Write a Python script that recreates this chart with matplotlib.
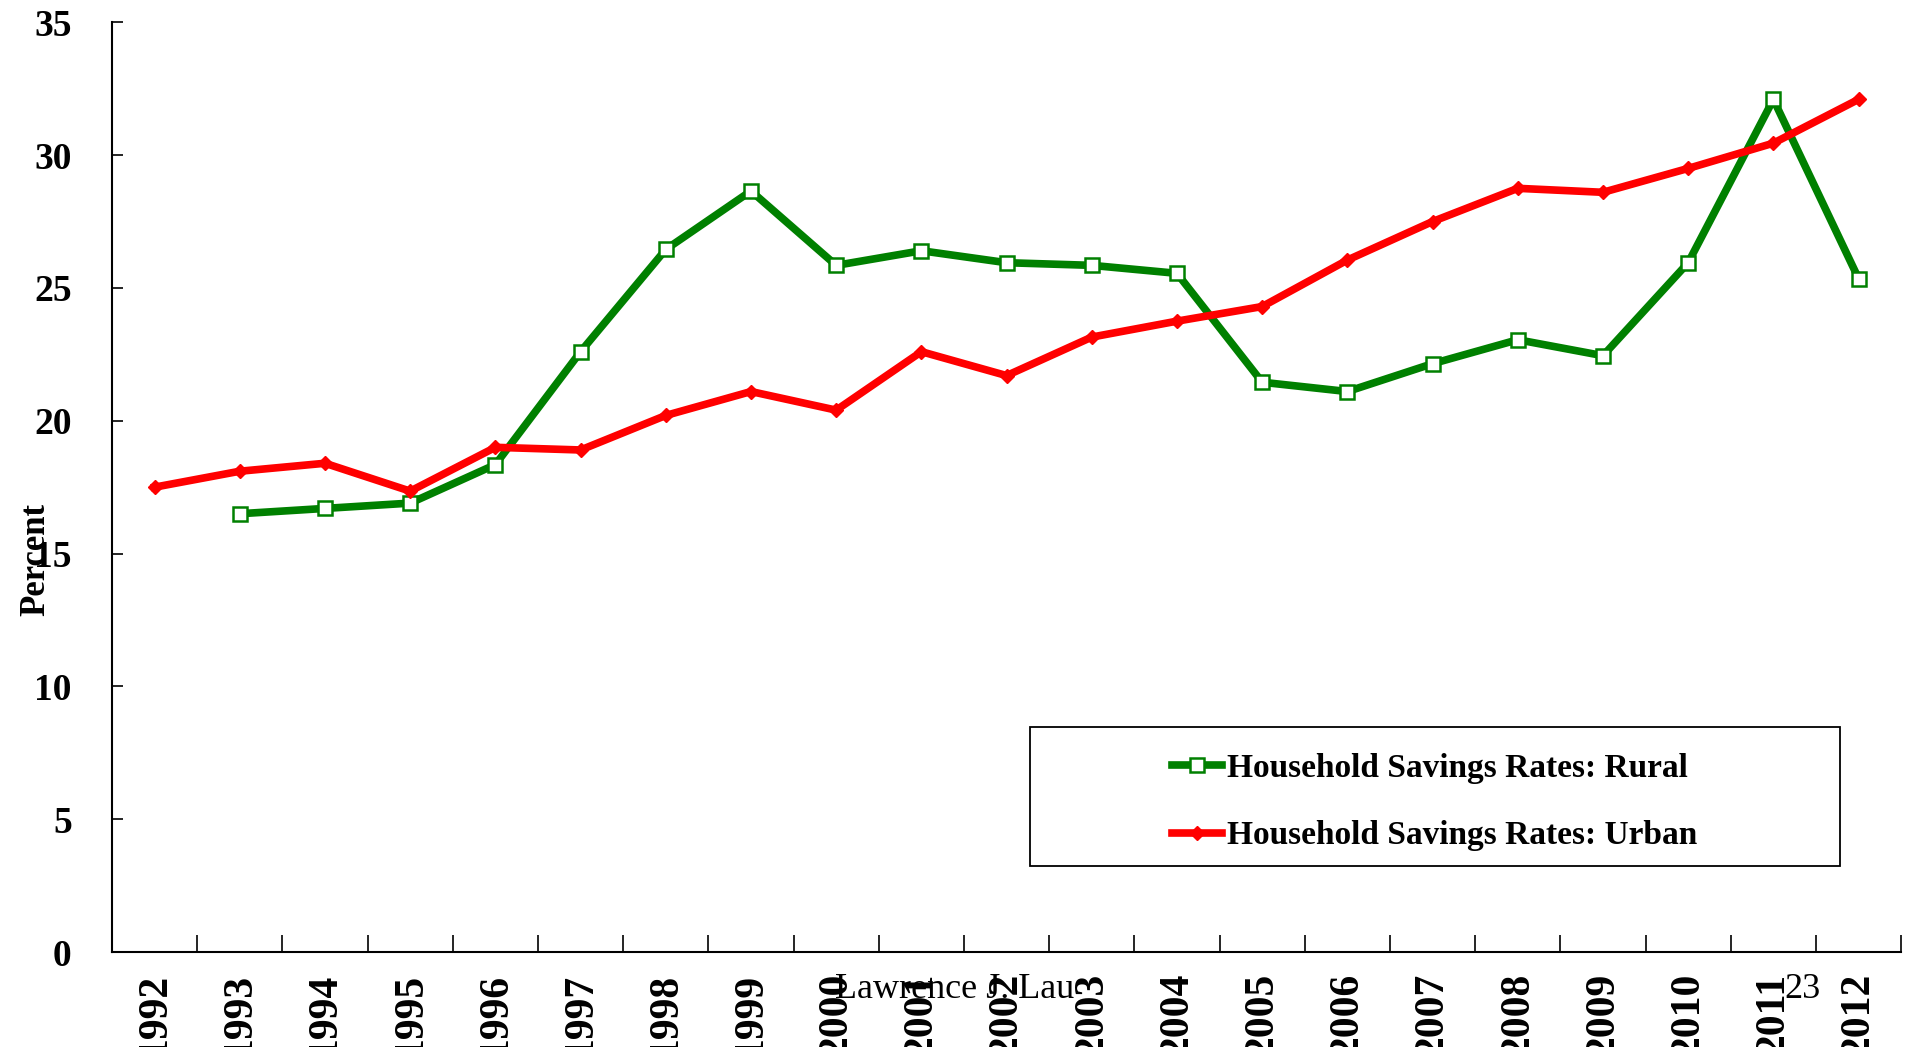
import numpy as np
import matplotlib
matplotlib.use("Agg")
import matplotlib.pyplot as plt
from matplotlib.ticker import FixedLocator
from matplotlib.patches import Rectangle

years = [str(y) for y in range(1992, 2013)]
rural = [np.nan, 16.5, 16.7, 16.9, 18.35, 22.6, 26.45, 28.65, 25.85, 26.4, 25.95,
         25.85, 25.55, 21.45, 21.1, 22.15, 23.05, 22.45, 25.95, 32.1, 25.35]
urban = [17.5, 18.1, 18.4, 17.35, 19.0, 18.9, 20.2, 21.1, 20.4, 22.6, 21.7,
         23.15, 23.75, 24.3, 26.05, 27.5, 28.75, 28.6, 29.5, 30.45, 32.1]
yticks = [0, 5, 10, 15, 20, 25, 30, 35]

serif = ["Liberation Serif", "DejaVu Serif"]
plt.rcParams["font.family"] = serif

fig = plt.figure(figsize=(19.05, 10.47), dpi=100)
ax = fig.add_axes([0.0588, 0.0907, 0.9392, 0.888])

x = np.arange(len(years))
ax.plot(x, rural, color="#008000", linewidth=5.5, marker="s", markersize=10,
        markerfacecolor="white", markeredgecolor="#008000", markeredgewidth=1.8,
        label="Household Savings Rates: Rural", zorder=3)
ax.plot(x, urban, color="#FF0000", linewidth=5.5, marker="D", markersize=7.5,
        markerfacecolor="#FF0000", markeredgecolor="#FF0000",
        label="Household Savings Rates: Urban", zorder=3)

ax.set_xlim(-0.5, len(years) - 0.5)
ax.set_ylim(0, 35)

ax.spines["top"].set_visible(False)
ax.spines["right"].set_visible(False)
ax.spines["left"].set_linewidth(1.5)
ax.spines["bottom"].set_linewidth(1.5)

ax.set_xticks(x)
ax.set_xticklabels(years, rotation=90, fontsize=30, fontweight="bold", va="top")
ax.tick_params(axis="x", which="major", length=0, pad=15)
ax.xaxis.set_minor_locator(FixedLocator(np.arange(-0.5, len(years), 1.0)))
ax.tick_params(axis="x", which="minor", direction="in", length=12, width=1.2)

ax.set_yticks(yticks)
ax.set_yticklabels([str(v) for v in yticks], fontsize=27, fontweight="bold")
ax.tick_params(axis="y", direction="in", length=8, width=1.2, pad=29)

fig.text(0.019, 1 - 559 / 1047, "Percent", rotation=90, ha="center", va="center",
         fontsize=25, fontweight="bold")

# legend box
fig.patches.append(Rectangle((1030 / 1905, 1 - 866 / 1047), 810 / 1905, 139 / 1047,
                             transform=fig.transFigure, fill=False,
                             edgecolor="black", linewidth=1.3, zorder=5))
leg = ax.legend(loc="center", bbox_to_anchor=(1435 / 1905, 1 - 802 / 1047),
                bbox_transform=fig.transFigure, frameon=False,
                prop={"family": serif, "weight": "bold", "size": 24},
                handlelength=1.5, handletextpad=0.15, labelspacing=1.1)

fig.text(955 / 1905, 1 - 990 / 1047, "Lawrence J. Lau", ha="center", va="center",
         fontsize=26, zorder=10)
fig.text(1802 / 1905, 1 - 990 / 1047, "23", ha="center", va="center",
         fontsize=26, zorder=10)

fig.savefig("out.png", dpi=100)
